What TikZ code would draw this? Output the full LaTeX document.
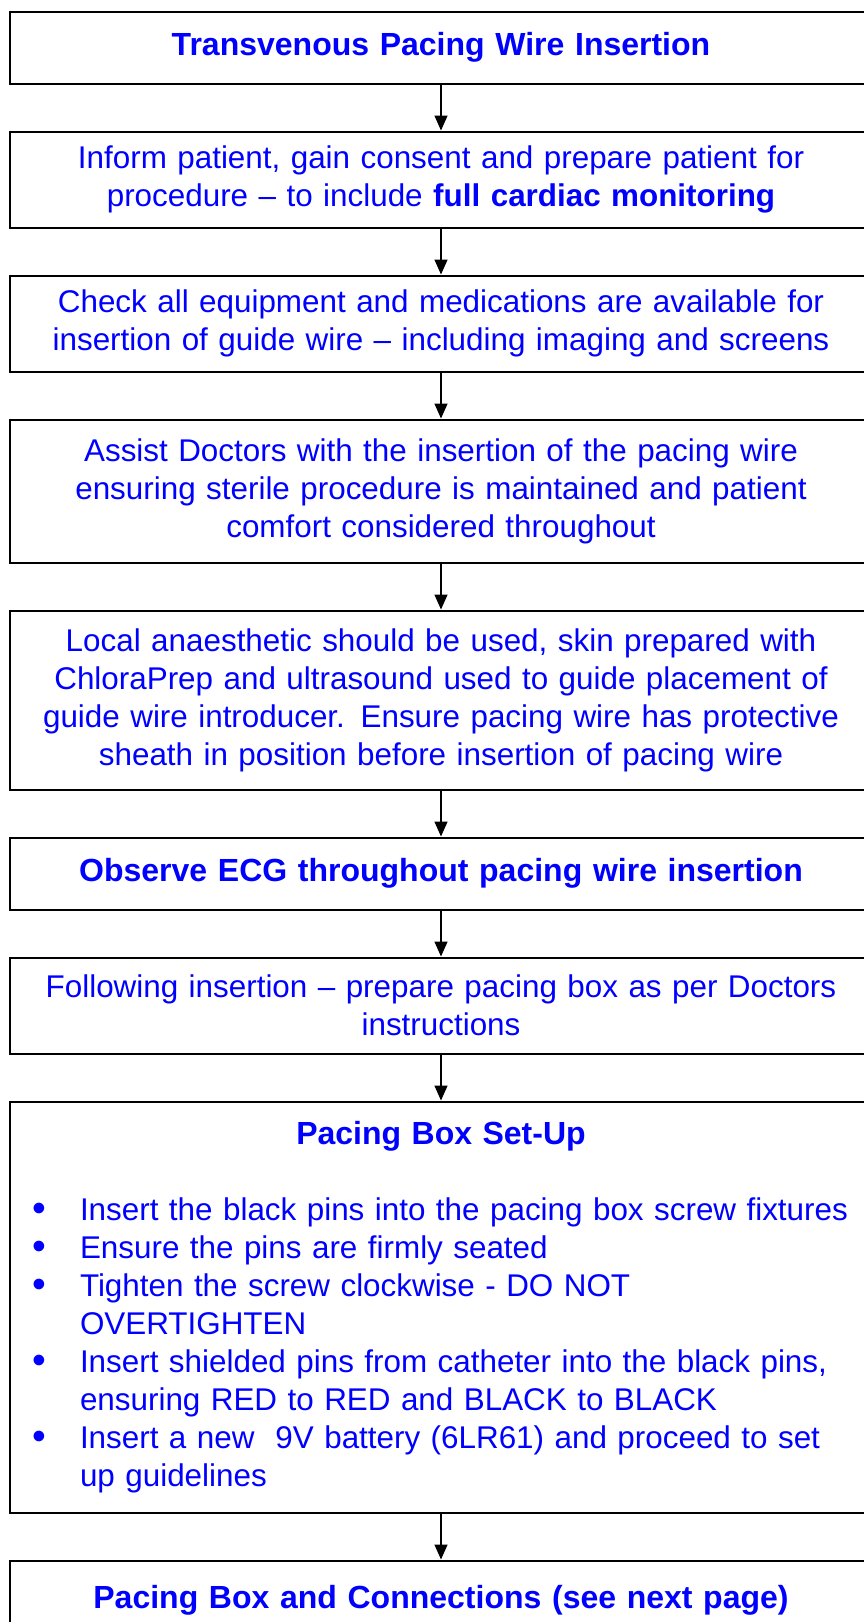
\documentclass[tikz,border=0pt]{standalone}
\usepackage{fontspec}
\usepackage{graphicx}
\setmainfont{Liberation Sans}
\usetikzlibrary{arrows.meta, positioning}
\definecolor{stepBlue}{HTML}{0000FF}

\tikzset{
  stepbox/.style={draw=black, line width=1pt, text=stepBlue, align=center,
    minimum width=431pt, text width=415pt, inner ysep=4pt,
    font=\fontsize{15.7}{19}\selectfont},
  headbox/.style={stepbox, font=\fontsize{16}{19}\selectfont\bfseries},
  flowarrow/.style={-{Triangle[length=7.5pt, width=6.5pt]}, line width=0.75pt}
}

\newcommand{\pinitem}[1]{\par\hangindent=23.3pt\hangafter=1\noindent
  \makebox[23.3pt][l]{\hspace{-0.4pt}\raisebox{-0.6pt}{\scalebox{1.25}{\textbullet}}}#1\par}

\begin{document}
\begin{tikzpicture}[node distance=23pt]
\useasboundingbox (0,0) rectangle (431.5pt,-811pt);

% Steps
\node[headbox, minimum height=36pt, anchor=north] (insertion) at (220.5pt,-5.25pt)
  {Transvenous Pacing Wire Insertion};
\node[stepbox, minimum height=48pt, below=of insertion] (consent)
  {Inform patient, gain consent and prepare patient for\\procedure – to include \textbf{full cardiac monitoring}};
\node[stepbox, minimum height=48pt, below=of consent] (equipment)
  {Check all equipment and medications are available for\\insertion of guide wire – including imaging and screens};
\node[stepbox, minimum height=71.5pt, below=of equipment] (assist)
  {Assist Doctors with the insertion of the pacing wire\\ensuring sterile procedure is maintained and patient\\comfort considered throughout};
\node[stepbox, minimum height=89.5pt, below=of assist] (anaesthetic)
  {Local anaesthetic should be used, skin prepared with\\ChloraPrep and ultrasound used to guide placement of\\guide wire introducer. Ensure pacing wire has protective\\sheath in position before insertion of pacing wire};
\node[headbox, minimum height=36pt, below=of anaesthetic] (ecg)
  {Observe ECG throughout pacing wire insertion};
\node[stepbox, minimum height=48pt, below=of ecg] (prepare)
  {Following insertion – prepare pacing box as per Doctors\\instructions};

% Set-up list
\node[stepbox, minimum height=205.5pt, text width=407.6pt, inner xsep=11.7pt, below=of prepare] (setup)
  {\parbox{407.6pt}{{\centering\fontsize{16}{19}\selectfont\bfseries Pacing Box Set-Up\par}\vspace{19pt}\raggedright
    \pinitem{\mbox{Insert the black pins into the pacing box screw fixtures}}
    \pinitem{Ensure the pins are firmly seated}
    \pinitem{Tighten the screw clockwise - DO NOT\newline OVERTIGHTEN}
    \pinitem{Insert shielded pins from catheter into the black pins,\newline ensuring RED to RED and BLACK to BLACK}
    \pinitem{Insert a new\ \ 9V battery (6LR61) and proceed to set\newline up guidelines}}};

\node[headbox, minimum height=40pt, below=of setup] (connections)
  {Pacing Box and Connections (see next page)};

% Arrows
\foreach \from/\to in {insertion/consent, consent/equipment, equipment/assist, assist/anaesthetic,
  anaesthetic/ecg, ecg/prepare, prepare/setup, setup/connections}
  \draw[flowarrow] (\from) -- (\to);
\end{tikzpicture}
\end{document}
